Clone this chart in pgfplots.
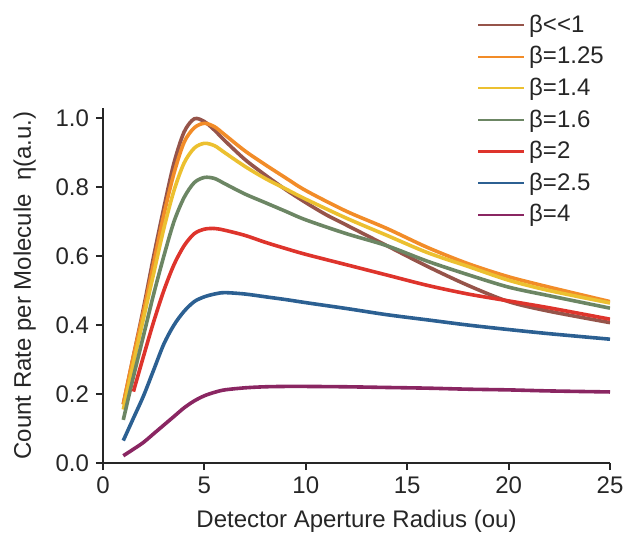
\documentclass[border=0pt]{standalone}
\usepackage{fontspec}
\setmainfont{Liberation Sans}
\usepackage{pgfplots}
\pgfplotsset{compat=1.18}

\definecolor{cbrown}{RGB}{150,84,74}
\definecolor{corange}{RGB}{242,140,40}
\definecolor{cyellow}{RGB}{236,192,48}
\definecolor{cgreen}{RGB}{108,134,100}
\definecolor{cred}{RGB}{222,52,44}
\definecolor{cblue}{RGB}{44,96,146}
\definecolor{cpurple}{RGB}{138,38,98}

\begin{document}
\begin{tikzpicture}
\begin{axis}[
    scale only axis,
    width=253.5pt, height=177.6pt,
    xmin=0, xmax=25, ymin=0, ymax=1.03,
    axis lines=left,
    axis line style={-, line width=1pt, black!85},
    xtick={0,5,...,25},
    ytick={0,0.2,...,1.0},
    tick align=outside,
    major tick length=3.5pt,
    tick style={line width=1pt, black!85},
    yticklabel style={/pgf/number format/fixed, /pgf/number format/fixed zerofill, /pgf/number format/precision=1},
    /pgf/number format/assume math mode=true,
    tick label style={font=\fontsize{12}{14}\selectfont, black!85},
    label style={font=\fontsize{12}{14}\selectfont, black!85},
    xlabel={Detector Aperture Radius (ou)},
    ylabel={Count Rate per Molecule\ \ η(a.u.)},
    xlabel style={yshift=-1pt},
    ylabel style={yshift=3pt},
    legend style={draw=none, fill=none, at={(0.725,1.285)}, anchor=north west,
        font=\fontsize{12}{14}\selectfont, text=black!85, row sep=1.6pt,
        legend cell align=left},
    legend image post style={line width=1.1pt},
    legend image code/.code={\draw[#1] (0pt,0pt) -- (23pt,0pt);},
    every axis plot/.append style={line width=1.8pt, smooth, tension=0.5},
]
\coordinate (O) at (axis cs:0,0);
\addplot[cbrown] coordinates {
(1,0.17) (1.5,0.31) (2,0.45) (2.5,0.60) (3,0.74) (3.5,0.87) (4,0.96) (4.5,0.998)
(5,0.99) (5.5,0.965) (6,0.935) (7,0.88) (8,0.835) (9,0.793) (10,0.755) (11,0.72)
(12,0.69) (13,0.66) (14,0.63) (16,0.57) (18,0.515) (20,0.468) (22,0.44) (25,0.407)};
\addlegendentry{β<\kern0pt<1}
\addplot[corange] coordinates {
(1,0.17) (1.5,0.31) (2,0.44) (2.5,0.58) (3,0.72) (3.5,0.84) (4,0.93) (4.5,0.972)
(5,0.985) (5.5,0.975) (6,0.952) (7,0.905) (8,0.865) (9,0.827) (10,0.79) (12,0.73)
(14,0.68) (16,0.625) (18,0.578) (20,0.54) (22,0.51) (25,0.468)};
\addlegendentry{β=1.25}
\addplot[cyellow] coordinates {
(1,0.155) (1.5,0.29) (2,0.42) (2.5,0.55) (3,0.68) (3.5,0.79) (4,0.87) (4.5,0.913)
(5,0.927) (5.5,0.92) (6,0.90) (7,0.86) (8,0.825) (9,0.795) (10,0.765) (12,0.71)
(14,0.66) (16,0.61) (18,0.57) (20,0.53) (22,0.50) (25,0.464)};
\addlegendentry{β=1.4}
\addplot[cgreen] coordinates {
(1,0.125) (1.5,0.25) (2,0.37) (2.5,0.49) (3,0.60) (3.5,0.70) (4,0.77) (4.5,0.813)
(5,0.828) (5.5,0.825) (6,0.81) (7,0.78) (8,0.755) (9,0.73) (10,0.705) (12,0.665)
(14,0.63) (16,0.585) (18,0.546) (20,0.51) (22,0.485) (25,0.449)};
\addlegendentry{β=1.6}
\addplot[cred] coordinates {
(1.5,0.207) (2,0.31) (2.5,0.41) (3,0.50) (3.5,0.575) (4,0.63) (4.5,0.665)
(5,0.678) (5.5,0.68) (6,0.675) (7,0.66) (8,0.64) (9,0.622) (10,0.605) (12,0.575)
(14,0.545) (16,0.515) (18,0.49) (20,0.47) (22,0.45) (25,0.417)};
\addlegendentry{β=2}
\addplot[cblue] coordinates {
(1,0.065) (1.5,0.13) (2,0.195) (2.5,0.27) (3,0.345) (3.5,0.40) (4,0.44) (4.5,0.468)
(5,0.482) (5.5,0.49) (6,0.494) (7,0.49) (8,0.482) (9,0.474) (10,0.465) (12,0.448)
(14,0.43) (16,0.415) (18,0.40) (20,0.387) (22,0.375) (25,0.359)};
\addlegendentry{β=2.5}
\addplot[cpurple] coordinates {
(1,0.021) (1.5,0.04) (2,0.06) (2.5,0.085) (3,0.11) (3.5,0.135) (4,0.16) (4.5,0.18)
(5,0.195) (5.5,0.205) (6,0.212) (7,0.218) (8,0.221) (9,0.222) (10,0.222) (12,0.221)
(14,0.219) (16,0.217) (18,0.214) (20,0.212) (22,0.209) (25,0.206)};
\addlegendentry{β=4}
\end{axis}
% page size matching the reference margins
\pgfresetboundingbox
\path (O) ++(-51.5pt,-38pt) rectangle ++(320pt,269.5pt);
\end{tikzpicture}
\end{document}
